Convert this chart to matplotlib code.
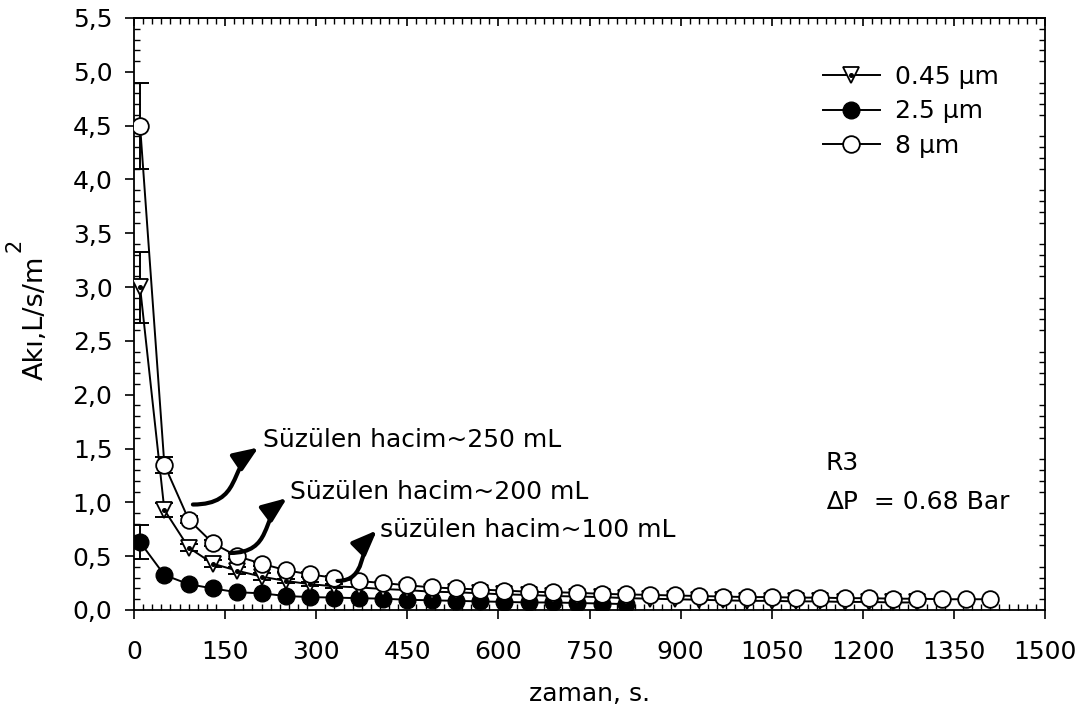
import matplotlib
matplotlib.use("Agg")
import matplotlib.pyplot as plt
import numpy as np
from matplotlib.path import Path
from matplotlib.patches import FancyArrowPatch
from matplotlib.transforms import IdentityTransform
from matplotlib.legend_handler import HandlerTuple
from matplotlib.ticker import MultipleLocator, FuncFormatter

plt.rcParams['font.family'] = ['DejaVu Sans']

# ---------------- data ----------------
time_s = [10, 50, 90, 130, 170, 210, 250, 290, 330, 370, 410, 450, 490, 530,
          570, 610, 650, 690, 730, 770, 810, 850, 890, 930, 970, 1010, 1050,
          1090, 1130, 1170, 1210, 1250, 1290, 1330, 1370, 1410]

flux_8 = [4.50, 1.35, 0.84, 0.62, 0.50, 0.43, 0.37, 0.33, 0.30, 0.27, 0.25,
          0.23, 0.21, 0.20, 0.19, 0.18, 0.17, 0.165, 0.16, 0.15, 0.145, 0.14,
          0.135, 0.13, 0.125, 0.12, 0.12, 0.115, 0.115, 0.11, 0.11, 0.105,
          0.105, 0.10, 0.10, 0.10]
err_8 = [0.40, 0.075, 0.03, 0.03, 0.03, 0.02, 0.02, 0.02, 0.02, 0.0, 0.0]

flux_045 = [3.00, 0.93, 0.58, 0.43, 0.365, 0.31, 0.27, 0.24, 0.22, 0.21,
            0.195, 0.185, 0.17, 0.165, 0.155, 0.145, 0.14, 0.13, 0.125, 0.12,
            0.11, 0.105, 0.10, 0.095, 0.09, 0.085, 0.085, 0.08, 0.08, 0.075,
            0.075, 0.07, 0.07]
err_045 = [0.33, 0.065, 0.03, 0.03, 0.03, 0.03, 0.02, 0.02, 0.02]

flux_25 = [0.63, 0.325, 0.24, 0.20, 0.165, 0.155, 0.13, 0.12, 0.115, 0.11,
           0.105, 0.095, 0.09, 0.085, 0.08, 0.075, 0.07, 0.07, 0.065, 0.06,
           0.055]
err_25 = [0.16]

labels = ["0.45 µm", "2.5 µm", "8 µm"]
x_ticks = [0, 150, 300, 450, 600, 750, 900, 1050, 1200, 1350, 1500]

# ---------------- figure ----------------
W, H = 1081, 716
fig = plt.figure(figsize=(W / 100, H / 100), dpi=100)
ax = fig.add_axes([134 / W, 1 - 610 / H, (1045 - 134) / W, (610 - 18) / H])

LW = 1.4
MS = 12
FS = 18


def draw_err(x, y, e, z):
    n = len(e)
    xs = np.array(x[:n]); ys = np.array(y[:n]); es = np.array(e)
    m = es > 0
    ax.errorbar(xs[m], ys[m], yerr=es[m], fmt='none', ecolor='black',
                elinewidth=LW, capsize=6.5, capthick=LW, zorder=z)


# 2.5 µm
draw_err(time_s, flux_25, err_25, 2)
l25, = ax.plot(time_s[:len(flux_25)], flux_25, '-o', color='black', lw=LW,
               ms=MS, mfc='black', mec='black', zorder=3)
# 0.45 µm
draw_err(time_s, flux_045, err_045, 4)
l045, = ax.plot(time_s[:len(flux_045)], flux_045, '-v', color='black', lw=LW,
                ms=MS, mfc='white', mec='black', mew=1.3, zorder=5)
d045, = ax.plot(time_s[:len(flux_045)], flux_045, 'o', color='black', ms=2.6,
                ls='none', zorder=5.5)
# 8 µm
draw_err(time_s, flux_8, err_8, 6)
l8, = ax.plot(time_s[:len(flux_8)], flux_8, '-o', color='black', lw=LW,
              ms=MS, mfc='white', mec='black', mew=1.3, zorder=7)

# axes limits and ticks
ax.set_xlim(0, 1500)
ax.set_ylim(0, 5.5)
ax.set_xticks(x_ticks)
ax.xaxis.set_minor_locator(MultipleLocator(15))
ax.yaxis.set_major_locator(MultipleLocator(0.5))
ax.yaxis.set_minor_locator(MultipleLocator(0.1))
ax.yaxis.set_major_formatter(FuncFormatter(lambda v, p: f"{v:.1f}".replace('.', ',')))

for sp in ax.spines.values():
    sp.set_linewidth(1.3)

ax.tick_params(axis='x', which='major', direction='out', length=6.5, width=1.2,
               top=False, labelsize=FS, pad=15)
ax.tick_params(axis='x', which='minor', direction='in', length=4.3, width=1.0,
               top=True, bottom=True)
ax.tick_params(axis='y', which='major', direction='out', length=6.5, width=1.2,
               right=False, labelsize=FS, pad=9)
ax.tick_params(axis='y', which='minor', direction='in', length=4.3, width=1.0,
               left=True, right=True)

sec = ax.secondary_xaxis('top')
sec.set_xticks(x_ticks)
sec.tick_params(axis='x', which='major', direction='in', length=5.8, width=1.2,
                labeltop=False)
sec.tick_params(axis='x', which='minor', length=0)
sec.spines['top'].set_linewidth(1.3)

ax.set_xlabel("zaman, s.", fontsize=FS, labelpad=13)

# y label with full-size raised exponent
fig.text(36 / W, 1 - 318 / H, "Akı,L/s/m", fontsize=19.5, rotation=90,
         ha='center', va='center')
fig.text(14 / W, 1 - 245 / H, "2", fontsize=15, rotation=90,
         ha='center', va='center')

# legend
leg = ax.legend([(l045, d045), l25, l8], labels,
                handler_map={tuple: HandlerTuple(ndivide=1, pad=0)},
                loc='upper left', bbox_to_anchor=(0.756, 0.921), frameon=False,
                fontsize=FS, handlelength=2.3, handletextpad=0.6,
                labelspacing=0.42, borderpad=0, borderaxespad=0, markerscale=1.0)


# annotations: curly arrows
def curly_arrow(p0, p3):
    a, b = ax.transData.transform([p0, p3])
    dx, dy = b[0] - a[0], b[1] - a[1]
    verts = [tuple(a), (a[0] + 0.75 * dx, a[1]),
             (b[0] - 0.45 * dx, b[1] - 0.35 * dy), tuple(b)]
    path = Path(verts, [Path.MOVETO, Path.CURVE4, Path.CURVE4, Path.CURVE4])
    arr = FancyArrowPatch(path=path,
                          arrowstyle='-|>,head_length=0.75,head_width=0.3',
                          mutation_scale=20, lw=3.0, color='black', zorder=9,
                          transform=IdentityTransform())
    ax.add_patch(arr)


curly_arrow((97, 0.98), (205, 1.51))
curly_arrow((158, 0.53), (252, 1.04))
curly_arrow((335, 0.27), (400, 0.74))

ax.text(212, 1.58, "Süzülen hacim~250 mL", fontsize=FS, va='center', ha='left')
ax.text(257, 1.10, "Süzülen hacim~200 mL", fontsize=FS, va='center', ha='left')
ax.text(405, 0.745, "süzülen hacim~100 mL", fontsize=FS, va='center', ha='left')

ax.text(1139, 1.37, "R3", fontsize=FS, va='center', ha='left')
ax.text(1139, 1.005, "∆P  = 0.68 Bar", fontsize=FS, va='center', ha='left')

fig.savefig("out.png", dpi=100)
